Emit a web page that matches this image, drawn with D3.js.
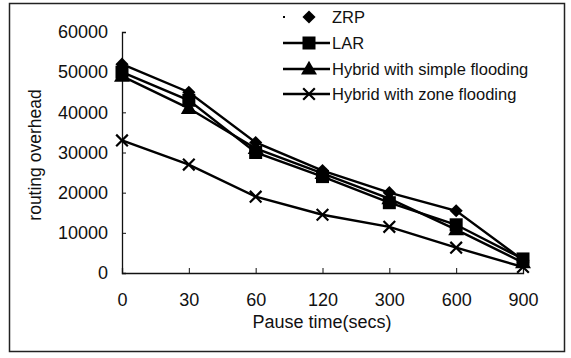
<!DOCTYPE html>
<meta charset="utf-8">
<script src="https://d3js.org/d3.v7.min.js"></script>
<style>
  body { margin: 0; background: #fff; }
  text { font-family: 'Liberation Sans', Arial, sans-serif; fill: #111; }
</style>
<body>
<svg width="571" height="358"></svg>
<script>
// pause times (categories)
var pauseTimes = ["0", "30", "60", "120", "300", "600", "900"];
var yTicks = [0, 10000, 20000, 30000, 40000, 50000, 60000];

// routing overhead per protocol
var zrp = [52000, 45000, 32500, 25500, 20000, 15500, 3200];
var lar = [50000, 43000, 30000, 24000, 17500, 12000, 3500];
var hybridSimple = [49000, 41000, 31000, 24800, 18500, 10800, 2600];
var hybridZone = [33000, 27000, 19000, 14500, 11500, 6300, 1500];

var seriesNames = ["ZRP", "LAR", "Hybrid with simple flooding", "Hybrid with zone flooding"];
var seriesValues = [zrp, lar, hybridSimple, hybridZone];
var markers = ["diamond", "square", "triangle", "cross"];

var svg = d3.select("svg");

// outer frame
svg.append("rect")
  .attr("x", 9.5).attr("y", 3.5)
  .attr("width", 555).attr("height", 348)
  .attr("fill", "none").attr("stroke", "#222").attr("stroke-width", 1.5);

var x = d3.scalePoint().domain(pauseTimes).range([122, 523]);
var y = d3.scaleLinear().domain([0, 60000]).range([273, 32]);

// axes
svg.append("g")
  .attr("transform", "translate(0,273)")
  .call(d3.axisBottom(x).tickSize(-5).tickPadding(20))
  .call(function (g) {
    g.select(".domain").attr("stroke", "#111").attr("stroke-width", 1.3);
    g.selectAll("text").attr("font-size", 18);
    g.selectAll(".tick line").attr("stroke", "#111");
  });

svg.append("g")
  .attr("transform", "translate(122,0)")
  .call(d3.axisLeft(y).tickValues(yTicks).tickFormat(d3.format("d")).tickSize(-4).tickPadding(14))
  .call(function (g) {
    g.select(".domain").attr("stroke", "#111").attr("stroke-width", 1.3);
    g.selectAll("text").attr("font-size", 18);
    g.selectAll(".tick line").attr("stroke", "#111");
  });

svg.append("text")
  .attr("x", 322).attr("y", 328)
  .attr("text-anchor", "middle").attr("font-size", 18)
  .text("Pause time(secs)");

svg.append("text")
  .attr("transform", "translate(41,155) rotate(-90)")
  .attr("text-anchor", "middle").attr("font-size", 17.5)
  .text("routing overhead");

function drawMarker(g, type, cx, cy) {
  if (type === "diamond") {
    g.append("path").attr("d", d3.symbol(d3.symbolDiamond2, 110)())
      .attr("transform", "translate(" + cx + "," + cy + ")").attr("fill", "#000");
  } else if (type === "square") {
    g.append("rect").attr("x", cx - 6.5).attr("y", cy - 6.5)
      .attr("width", 13).attr("height", 13).attr("fill", "#000");
  } else if (type === "triangle") {
    g.append("path").attr("d", d3.symbol(d3.symbolTriangle, 110)())
      .attr("transform", "translate(" + cx + "," + (cy + 1) + ")").attr("fill", "#000");
  } else {
    g.append("path").attr("d", d3.symbol(d3.symbolTimes, 90)())
      .attr("transform", "translate(" + cx + "," + cy + ")")
      .attr("fill", "none").attr("stroke", "#000").attr("stroke-width", 2.2);
  }
}

var line = d3.line()
  .x(function (d, i) { return x(pauseTimes[i]); })
  .y(function (d) { return y(d); });

seriesValues.forEach(function (vals, s) {
  var g = svg.append("g");
  g.append("path").datum(vals)
    .attr("d", line)
    .attr("fill", "none").attr("stroke", "#000").attr("stroke-width", 2.4);
  vals.forEach(function (v, i) {
    drawMarker(g, markers[s], x(pauseTimes[i]), y(v));
  });
});

// legend
var legendY = [17, 43, 69, 94];
seriesNames.forEach(function (name, s) {
  var g = svg.append("g");
  var ly = legendY[s];
  if (s === 0) {
    g.append("rect").attr("x", 283).attr("y", ly - 1).attr("width", 2).attr("height", 2).attr("fill", "#000");
  } else {
    g.append("line").attr("x1", 283).attr("x2", 330).attr("y1", ly).attr("y2", ly)
      .attr("stroke", "#000").attr("stroke-width", 2.4);
  }
  drawMarker(g, markers[s], 309, ly);
  g.append("text").attr("x", 332).attr("y", ly + 6)
    .attr("font-size", 16.5).text(name);
});
</script>
</body>
